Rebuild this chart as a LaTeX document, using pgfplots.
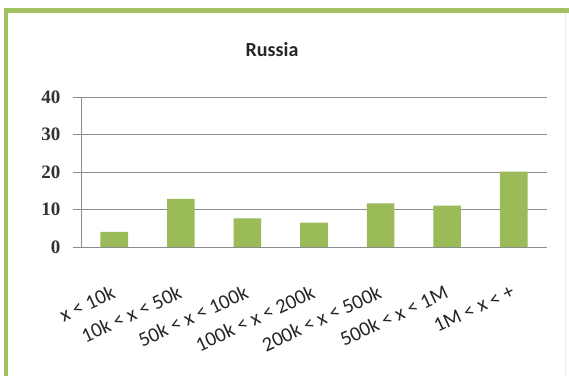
\documentclass[border=0pt]{standalone}
\usepackage{pgfplots}
\pgfplotsset{compat=1.18}
\usepackage{fontspec}
\setmainfont{Carlito}
\newfontfamily\serifnum{Liberation Serif}
\definecolor{bargreen}{HTML}{9BBB59}
\definecolor{framegreen}{HTML}{A2C163}
\definecolor{gridgray}{HTML}{8C8C8C}
\begin{document}
\begin{tikzpicture}[x=1pt,y=1pt]
\path[fill=white] (0,0) rectangle (569,376);
\fill[framegreen] (4,0) rectangle (8,368);
\fill[framegreen] (4,363) rectangle (569,368);
\draw[black!8] (565,0) -- (565,363);
\node[font=\fontsize{20}{20}\selectfont\bfseries, text=black!85] at (272,326) {Russia};
\begin{axis}[
  at={(81pt,129pt)}, anchor=south west,
  scale only axis, width=466pt, height=150pt,
  xmin=-0.5, xmax=6.5, ymin=0, ymax=40,
  axis lines*=left,
  axis line style={gridgray},
  ytick={0,10,20,30,40},
  ymajorgrids, grid style={gridgray, line width=0.8pt},
  y tick style={gridgray}, major tick length=8pt, tick align=outside,
  yticklabel style={font=\fontsize{19}{19}\selectfont\serifnum\bfseries, text=black!80, xshift=-9pt},
  /pgf/number format/assume math mode=true,
  xtick={0,...,6},
  xticklabels={{x < 10k},{10k < x < 50k},{50k < x < 100k},{100k < x < 200k},{200k < x < 500k},{500k < x < 1M},{1M < x < +}},
  x tick style={draw=none},
  xticklabel style={font=\fontsize{20.5}{20.5}\selectfont, yshift=-25pt, xshift=-2pt, rotate=25, anchor=north east, text=black!85},
  extra x ticks={-0.5,0.5,1.5,2.5,3.5,4.5,5.5,6.5},
  extra x tick labels={},
  extra x tick style={grid=none, major tick length=5pt, tick style={draw=gridgray}},
  clip=false,
]
\addplot[ybar, bar width=27.6pt, fill=bargreen, draw=none] coordinates {
(0,4.0) (1,12.8) (2,7.6) (3,6.5) (4,11.6) (5,11.0) (6,20.1)
};
\end{axis}
\end{tikzpicture}
\end{document}
